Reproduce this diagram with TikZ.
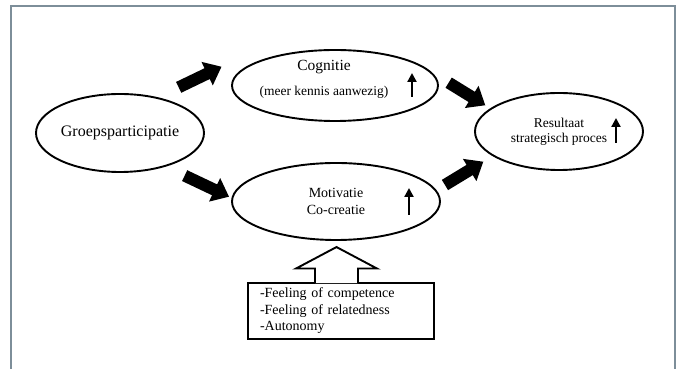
\documentclass[tikz,border=0pt]{standalone}
\usepackage{fontspec}
\setmainfont{Liberation Serif}
\usetikzlibrary{arrows.meta,positioning,shapes.geometric}
\definecolor{rim}{HTML}{7D8E99}

\begin{document}
\begin{tikzpicture}[
  x=1pt, y=1pt,
  ell/.style={draw, ellipse, line width=1.9pt, inner sep=0pt, align=center, font=\fontsize{14}{16.5}\selectfont},
  blk/.style={line width=12pt, -{Triangle[length=16pt,width=25pt]}},
  rise/.style={line width=2.2pt, -{Triangle[length=9pt,width=9pt]}},
  box/.style={draw, line width=1.9pt, inner xsep=12pt, inner ysep=4pt, text width=162pt, minimum height=56pt, align=left, font=\fontsize{14}{16.5}\selectfont}
]
\useasboundingbox (0,0) rectangle (681,369);
\draw[rim, line width=1.8pt] (11,0) |- (675,363) -- (675,0);

\node[ell, minimum width=168pt, minimum height=78pt, font=\fontsize{16}{19}\selectfont] (groep) at (120,236) {Groepsparticipatie};
\node[ell, minimum width=206pt, minimum height=71pt,
  label={[align=center, font=\fontsize{13.5}{16}\selectfont, xshift=-11pt, yshift=6pt]center:{\fontsize{15.5}{18}\selectfont Cognitie}\\[9pt](meer kennis aanwezig)}] (cog) at (335,283.5) {};
\node[ell, minimum width=208pt, minimum height=77pt] (mot) at (336,167.5) {Motivatie\\Co-creatie};
\node[ell, minimum width=168pt, minimum height=77pt, font=\fontsize{13.5}{15}\selectfont] (res) at (559,237.5) {Resultaat\\strategisch proces};
\node[box] (need) at (341,58) {-Feeling of competence\\-Feeling of relatedness\\-Autonomy};

\draw[blk] ([shift={(-1.4,17.4)}]groep.north east) -- ([shift={(-9.5,18.8)}]cog.west);
\draw[blk] ([shift={(4.6,-14.4)}]groep.south east) -- ([shift={(-2,4.8)}]mot.west);
\draw[blk] ([shift={(9.7,2.8)}]cog.east) -- ([shift={(-13.6,-1.7)}]res.north west);
\draw[blk] ([shift={(4,16.5)}]mot.east) -- ([shift={(-15.6,-2.3)}]res.south west);

\draw[rise] ([shift={(77,-11.5)}]cog.center) -- ([shift={(77,12.5)}]cog.center);
\draw[rise] ([shift={(73,-13.5)}]mot.center) -- ([shift={(73,13.5)}]mot.center);
\draw[rise] ([shift={(57,-11.5)}]res.center) -- ([shift={(57,13.5)}]res.center);

\draw[line width=1.9pt, fill=white] ([shift={(-26,-1)}]need.north) -- ++(0,14.5) -- ++(-19,0) -- ++(40.5,21.5) -- ++(40.5,-21.5) -- ++(-19,0) -- ++(0,-14.5);
\end{tikzpicture}
\end{document}
